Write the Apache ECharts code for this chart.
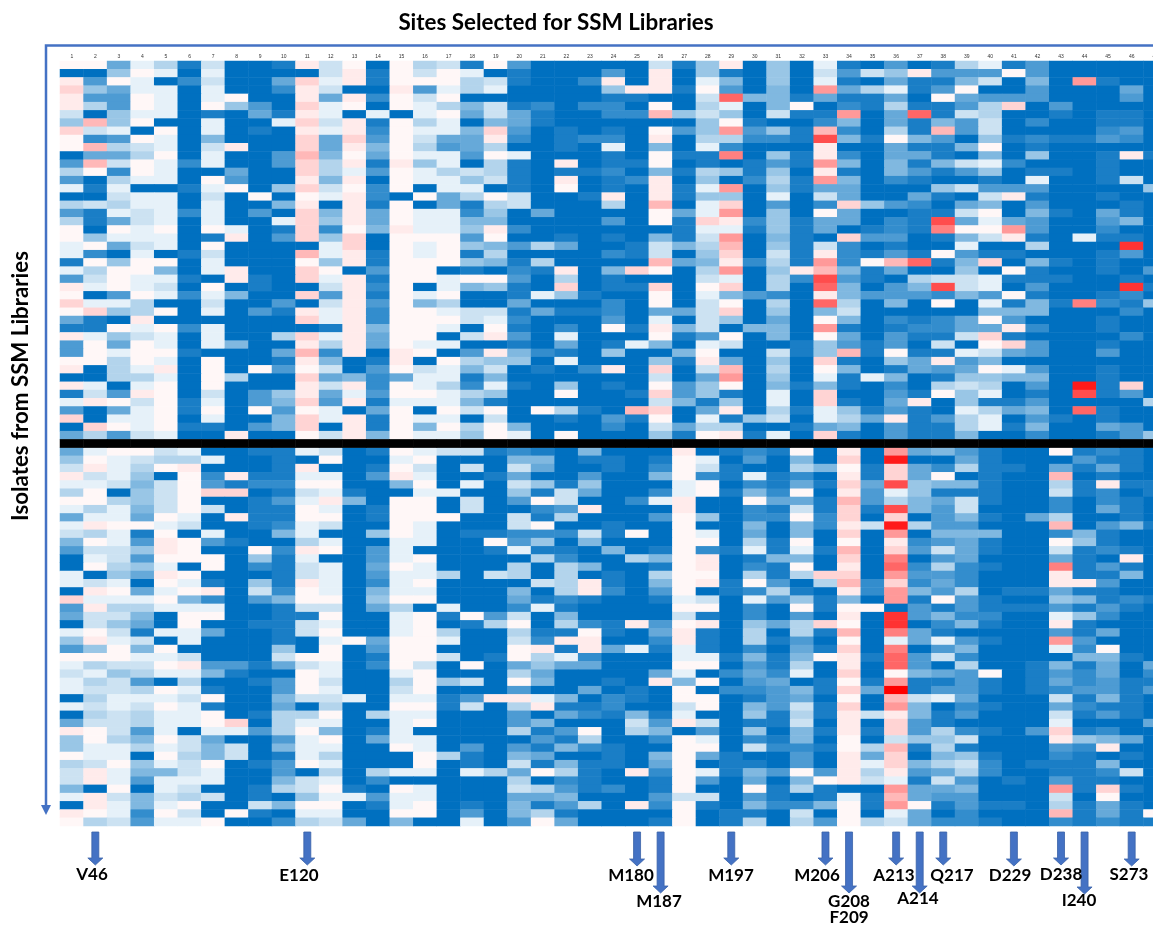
<!DOCTYPE html>
<html><head><meta charset="utf-8">
<style>html,body{margin:0;padding:0;background:#fff;overflow:hidden}#c{width:1153px;height:925px}</style>
<script src="https://cdn.jsdelivr.net/npm/echarts@6/dist/echarts.min.js"></script>
</head><body><div id="c"></div>
<script>
// Level codes: 0 = full blue ... 9 = pale blue, a = near white, b..k = pale pink ... full red.
const upperRows = [
"aa49718001b8a0a 781a300000816b06 0910301791300000",
"006a90900008b1a 8a90100030b06106 08386b333a300000",
"b3a9028004c9b1a aa781002b0b09506 091041158050e100",
"c649909002b800b 397900006bb1a305 0e47913a00300040",
"b33a909a00b4b2a 8a00000011008g55 141140a433300030",
"b73a90a630c9a0a 9758120220a07905 a02171137c030000",
"8069901041b9090 9a48410022d68608 11e04g1870010110",
"6d6a009009c8b1a 7905410000006a10 0250415380200110",
"c890a09010b9b2a 995c301010a36e36 1d2071d380000230",
"a23a905000c4c3a 844b201220b07722 1h51a53061211320",
"ad78908b00c4b5a 7347001090509200 0b004115a0100000",
"0447a09003d5a4a 993a900010a11f06 1b204410506001b1",
"3d8a929003c7b1b 690710b011a01013 1e50515892000100",
"7a2a900400c793a 9787101120517616 0b10531360110100",
"307990a300b5b0a 996810b012b06027 1e50210010900180",
"9190019a06c8a2a 099010a010b19e06 1440006833300006",
"00899080a0a9b20 a47a8001b0b16609 084004108b100100",
"7879909005b0b1a 0417800070d09c03 02c6320450300010",
"3198929030c5b4a 9926040000a49e06 0a400118a0510410",
"7148909009c6b4a 9955000030a1cb26 144021h494300350",
"a0a9a0a901c2a5b 996b200000019916 140121faae300200",
"a699901b03c6c0a aa3a001010518e05 10c330158b109110",
"9a4890a00009c0a 9a65374001857d06 18201009007000i0",
"9209018000d9b1a 9a17000021806c08 1b2131a311000130",
"1a6aa09000a6b1a aa65170000d45b27 1e2adg15c0510100",
"97aa509b00ca03a a01021b05ca07e06 bd5140060a100103",
"38a9910b10c9b1a a9aa307010008907 2h31078891110010",
"b9a980a01008b2a 095610c011c0ac07 0g5035h8903000i1",
"a03a929500c3b1a 9a00196100a09532 0b5333253a100120",
"c99700800308b3a 5700400020a08a07 0g7050a09151f216",
"ac67a09031b9b2a a988141120448c06 0580000055500020",
"410b000000c9b2a aa89200030908604 0a502124a3000100",
"11a9a2900001b5a a90a1020a1b58055 0e1012244b200100",
"b968909007c9b4a a08b309000a13a05 0a403118c1000020",
"3a4a909500b7b4a 9900104019509800 16313080ac300100",
"3a9aa10004d2b0b a03b52106005a008 16d1a11984300300",
"aa7a90a001b501b 0a7660900061b406 0c1064b350000000",
"b079b0a0a3a803a 89580102b0c08d07 0a501434a9300100",
"007790a700c4524 9915000000804e06 0919501665500100",
"b909a0a000b8b2a 9729106010a36a05 151020787030j1c0",
"183ba08036b493a a97600a001c36109 0c0031a69010h130",
"9ba8a19035c3b19 9951000000851609 0c104b0611300007",
"3049a1a0a3a904a 0a8a0a710dc04b07 196131097450g100",
"c099a09005c9b1a 9908001031a09168 0974b13790310100",
"0ca9a11035c0b1a 5a7a500020847700 1450311791500430",
"4738900b00a8b5a 996a90a00061ab19 0c10311500200136"
];
const lowerRows = [
"49aa8900119801a 98812105000b0121 a0b0e453100a1210",
"6a987790010a009 a0005501101a9030 50c0j00410003110",
"8b97ab0001b001a 80808400102a8100 75a1c42711041410",
"b8960a2b119903b 90014003005a2191 20b1c4a0100d0100",
"99858a3122aa005 a09086160009a021 41c4h65510071b11",
"7a068acc0189100 990061840029a152 a0b3961110081201",
"aa768a00139b50a a0803a80029b00a4 41d3754810020210",
"97958a8011a901a a080023b000b0021 81c1h53800020410",
"4994a90b11aa01a aa008170003a6022 a2c0c03510470010",
"9baa9800129800a 90008a00100a0050 52b8j733000d0351",
"8791a090059006a 901122281a0a9040 50c0e05550025100",
"5a93ba310079009 900a3605000aa071 a0a0b234100a6100",
"3886ba00a2ba039 00019110501a2191 91d0c38410081210",
"0983aaa06190039 a0000720075ab015 50c0f034000410b0",
"0a7690a0218904a 90007075001ab021 a0b0g272100f1310",
"9064ba000189039 97087070107aa071 7cc0e332000b1150",
"9890a91061b9029 a000087b105ab1a3 07d2c242000bb300",
"0ba49ab082a9059 9000507b203a0127 10b2e53701141100",
"c999a52035aa06a a000412100198093 6150e1a310065121",
"3b7799900188047 09002910000aa020 a1aa031311131310",
"48850aa0011a009 a1a3805000081020 30b0i35220096200",
"08640a001189009 a017a0721b3ab064 7ca0i025100b1000",
"9a819940018a009 a700711a104b1070 71d0f41000031400",
"6b9809000109a4a a90082bb002b1071 30a09493100e3000",
"36a5a000060a03a a000ab1b49191020 41c0f03500092a00",
"aaa9980008aa01a a801a79200099151 5ab1g38200005510",
"9788ab33148902a 80a04644000aa031 70b0g30700151404",
"8967995100a9009 a000740000490242 90c0a543a0132402",
"9783070013a8007 a680a50010b5a034 01a1e11310142311",
"9887a91003a9008 a0003004010a0223 51c4k13310123313",
"079998a00588909 913bb950210aa013 40a0d89400081510",
"9898a910040700a a1807b112008a053 81c0e50210042110",
"078799a0177a079 9000304215190061 71b8b51300081310",
"488799ac0799009 a0003500083b8011 80b0c31000090004",
"ba83909937a5019 0000713a07503060 51b1c372103c1200",
"6a75a840039a049 90000317002a9021 50a08668000b6540",
"69979858059900a 90303152100aa082 21a7d17100032b00",
"a990a7580197000 a7105400105a4100 30b4c05610021010",
"78a698a013a9000 a0108151104a0110 30b9c57820111500",
"8b9558900307079 90974a710b2a9153 a3b7b34720011280",
"8b9399900589020 00007021001a3040 5ab8918301031100",
"50a09800178a10a 90008731201a00a1 7100e445000e1c10",
"9b8587801069939 9000445000388031 0191d43300080a00",
"0b959a0085aa019 a01051370b2a1052 25a1ea1311071410",
"ba92a80a109900a a0305710000a0110 80a09402000d141a",
"a78399a00278405 00903a40001a0170 73a7842210021211"
];
const columnLabels = Array.from({length:47},(_,i)=>String(i+1));
const pinkLevels = [0.3,0.8,1.7,2.8,4,5,6,7,8,9,10];
const siteNames   = ["V46","E120","M180","M187","M197","M206","G208","A213","A214","Q217","D229","D238","I240","S273"];
const siteColumns = [2,11,25,26,29,33,34,36,37,38,41,43,44,46];
const chartTitle = "Sites Selected for SSM Libraries";
const sideTitle = "Isolates from SSM Libraries";
const extraSiteLabel = "F209";

// layout (label centre x, label centre y, arrow tip y) for each site
const siteLayout = [[92,875,865],[299,876,865],[631,876,866],[659,902,893],[731,876,865],[817,876,865],[849,902,893],[894,876,865],[918,899,893],[952,876,865],[1010,876,866],[1061,875,865],[1079,901,894],[1129,875,866]];

const levelOf = ch => { const c = ch.charCodeAt(0); return c<58 ? c-48 : 10+pinkLevels[c-97]; };
const allRows = [...upperRows, null, ...lowerRows];
const rowCats = allRows.map((_,i)=>String(i));
const cells = [], barCells = [];
allRows.forEach((r,y)=>{
  if(r===null){ columnLabels.forEach((_,x)=>barCells.push([x,y,1])); return; }
  const s = r.replace(/ /g,'');
  for(let x=0;x<47;x++) cells.push([x,y,levelOf(s[x]||'0')]);
});

const chart = echarts.init(document.getElementById('c'),null,{renderer:'canvas',width:1153,height:925});
const fontFam = 'Lato, "Open Sans", sans-serif';
chart.setOption({
  animation:false,
  backgroundColor:'#fff',
  grid:{left:60,top:61,width:1107,height:765,containLabel:false,outerBoundsMode:'none'},
  xAxis:{type:'category',position:'top',data:columnLabels,axisLine:{show:false},axisTick:{show:false},splitLine:{show:false},splitArea:{show:false},
    axisLabel:{interval:0,fontSize:5,color:'#333',margin:2,hideOverlap:false,fontFamily:'Liberation Sans'}},
  yAxis:{type:'category',inverse:true,data:rowCats,show:false,splitArea:{show:false}},
  visualMap:{show:false,type:'continuous',min:0,max:20,seriesIndex:0,dimension:2,inRange:{color:['#0070C0','#FFFFFF','#FF0000']}},
  series:[
    {type:'heatmap',data:cells,progressive:0,itemStyle:{borderWidth:0},emphasis:{disabled:true},silent:true},
    {type:'heatmap',data:barCells,progressive:0,itemStyle:{color:'#000',borderWidth:0},emphasis:{disabled:true},silent:true}
  ]
});

const blue='#4472C4', edge='#3A62A8';
const gfx=[];
gfx.push({type:'text',x:556,y:23,style:{text:chartTitle,font:'bold 22.4px '+fontFam,fill:'#000',align:'center',verticalAlign:'middle'}});
gfx.push({type:'text',x:21,y:386,rotation:Math.PI/2,originX:0,originY:0,style:{text:sideTitle,font:'bold 22.3px '+fontFam,fill:'#000',align:'center',verticalAlign:'middle'}});
// L-shaped axis arrow
gfx.push({type:'polyline',shape:{points:[[1153,45.5],[46,45.5],[46,806]]},style:{stroke:blue,lineWidth:2.5,fill:null}});
gfx.push({type:'polygon',shape:{points:[[41,805],[51,805],[46,815]]},style:{fill:blue}});
// site arrows from the column scale
siteNames.forEach((name,i)=>{
  const cx=chart.convertToPixel({xAxisIndex:0},String(siteColumns[i]));
  const [lx,ly,tip]=siteLayout[i];
  const top=832, hs=7.5, sh=3.5;
  gfx.push({type:'polygon',shape:{points:[[cx-sh,top],[cx+sh,top],[cx+sh,tip-7],[cx+hs,tip-7],[cx,tip],[cx-hs,tip-7],[cx-sh,tip-7]]},style:{fill:blue,stroke:edge,lineWidth:0.8}});
});
siteNames.forEach((name,i)=>{
  const [lx,ly]=siteLayout[i];
  gfx.push({type:'text',x:lx,y:ly,style:{text:name,font:'bold 17px '+fontFam,fill:'#000',align:'center',verticalAlign:'middle'}});
});
gfx.push({type:'text',x:849,y:918,style:{text:extraSiteLabel,font:'bold 17px '+fontFam,fill:'#000',align:'center',verticalAlign:'middle'}});
chart.setOption({graphic:{elements:gfx.map(g=>Object.assign({silent:true},g))}});
</script></body></html>
